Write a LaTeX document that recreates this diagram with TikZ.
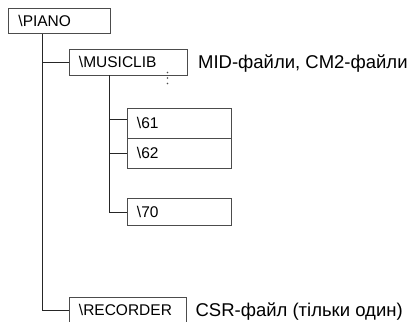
\documentclass[tikz,border=0pt]{standalone}
\usepackage{fontspec}
\setmainfont{Liberation Sans}
\tikzset{
  dirbox/.style={draw=black!70, line width=0.9pt, anchor=north west,
    inner xsep=10pt, inner ysep=0pt, minimum height=25pt, align=left,
    font=\fontsize{15.5}{18}\selectfont},
  branch/.style={draw=black!85, line width=0.9pt},
  note/.style={anchor=base west, inner sep=0pt,
    font=\fontsize{18.5}{22}\selectfont}
}
\begin{document}
\begin{tikzpicture}[x=1pt, y=-1pt]
  \useasboundingbox (0,0) rectangle (409,321);
  % directory boxes
  \node[dirbox, text width=82pt] (piano) at (8,8) {\textbackslash PIANO};
  \node[dirbox, text width=98pt] (musiclib) at (68.5,49.5) {\textbackslash MUSICLIB};
  \node[dirbox, text width=84pt, minimum height=30pt] (d61) at (126.5,107.5) {\textbackslash 61};
  \node[dirbox, text width=84pt, minimum height=30pt] (d62) at (126.5,137.5) {\textbackslash 62};
  \node[dirbox, text width=84pt, minimum height=27pt] (d70) at (126.5,198) {\textbackslash 70};
  \node[dirbox, text width=97pt] (recorder) at (68.5,297) {\textbackslash RECORDER};
  % tree lines
  \coordinate (pianoroot) at ([xshift=34pt]piano.south west);
  \coordinate (libroot) at ([xshift=40.5pt]musiclib.south west);
  \draw[branch] (pianoroot) |- (recorder.west);
  \draw[branch] (pianoroot |- musiclib.west) -- (musiclib.west);
  \draw[branch] (libroot) |- (d70.west);
  \draw[branch] (libroot |- d61.west) ++(0,-4) -- ([yshift=4pt]d61.west);
  \draw[branch] (libroot |- d62.west) -- (d62.west);
  % more files
  \foreach \y in {72.5,78,83.5}
    \fill[black!70] (167.5,\y) circle (0.9pt);
  % notes
  \node[note, xshift=10.5pt, yshift=-6.5pt] (libnote) at (musiclib.east) {MID-файли, CM2-файли};
  \node[note, xshift=9pt, yshift=-6.5pt] (recnote) at (recorder.east) {CSR-файл (тільки один)};
\end{tikzpicture}
\end{document}
